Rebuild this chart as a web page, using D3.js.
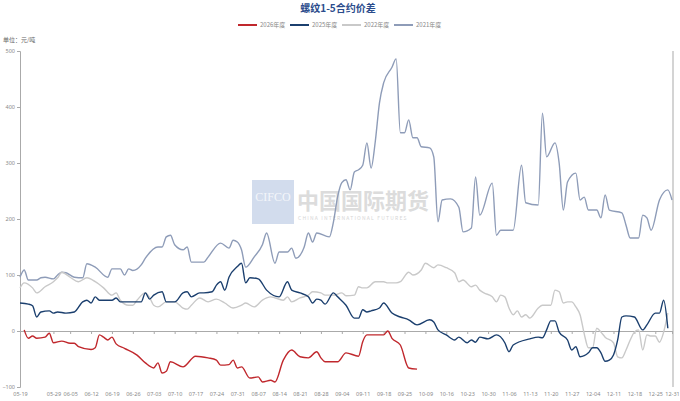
<!DOCTYPE html>
<html><head><meta charset="utf-8">
<script src="https://cdn.jsdelivr.net/npm/d3@7/dist/d3.min.js"></script>
<style>
body{margin:0;background:#fff;}
svg{display:block;font-family:"Noto Sans CJK SC","Noto Sans",sans-serif;}
</style>
</head><body>
<svg id="chart" width="680" height="401"></svg>
<script>
// ---- data ----
const title = "螺纹1-5合约价差";
const unitLabel = "单位：元/吨";
const seriesNames = ["2026年度", "2025年度", "2022年度", "2021年度"];
const seriesColors = ["#c0282d", "#1b3f6e", "#c9c9c9", "#8e9cb8"];
// trading-day index of each x tick label
const tickLabels = ["05-19","05-29","06-05","06-12","06-19","06-26","07-03","07-10","07-17","07-24","07-31","08-07","08-14","08-21","08-28","09-04","09-11","09-18","09-25","10-09","10-16","10-23","10-30","11-06","11-13","11-20","11-27","12-04","12-11","12-18","12-25","12-31"];
const tickDays = [0,8,12,17,22,27,32,37,42,47,52,57,62,67,72,77,82,87,92,97,102,107,112,117,122,127,132,137,142,147,152,156];
const yTicks = [-100,0,100,200,300,400,500];
// [trading-day index, spread]
const s2026 = [[1,2],[2,-13],[3,-9],[4,-13],[6,-11],[7,-4],[8,-21],[10,-18],[12,-22],[13,-22],[14,-28],[17,-33],[18,-30],[19,-7],[20,-11],[21,-16],[22,-11],[23,-23],[25,-31],[28,-43],[30,-57],[32,-66],[33,-57],[34,-75],[35,-72],[36,-55],[39,-64],[42,-45],[45,-48],[47,-52],[48,-61],[50,-60],[51,-52],[52,-66],[53,-64],[55,-84],[57,-82],[58,-91],[60,-88],[61,-91],[63,-52],[65,-34],[67,-46],[69,-48],[71,-37],[72,-48],[73,-55],[76,-55],[78,-39],[81,-45],[82,-19],[83,-7],[87,-7],[88,0],[89,-13],[91,-25],[93,-66],[95,-68]];
const s2025 = [[0,50],[2,48],[3,45],[4,25],[5,34],[7,36],[8,32],[9,34],[11,32],[13,34],[15,52],[16,55],[17,50],[18,61],[19,55],[22,55],[23,59],[24,52],[27,52],[29,52],[30,68],[31,57],[32,64],[34,70],[35,52],[37,52],[39,68],[40,70],[41,61],[43,68],[44,68],[46,70],[47,82],[48,88],[49,73],[50,96],[52,115],[53,121],[54,86],[55,95],[57,93],[59,73],[62,61],[64,88],[65,73],[67,68],[69,61],[70,50],[71,57],[72,55],[73,48],[75,68],[76,61],[78,46],[80,23],[81,23],[82,38],[83,34],[84,36],[86,41],[87,50],[89,32],[91,25],[93,20],[95,11],[98,20],[99,16],[100,2],[102,-7],[104,-16],[105,-11],[107,-21],[108,-16],[109,-20],[110,-11],[112,-14],[114,-7],[116,-21],[117,-37],[118,-25],[122,-14],[124,-11],[125,-12],[126,2],[127,18],[128,18],[129,-2],[131,-16],[132,-34],[133,-28],[134,-46],[136,-39],[137,-30],[138,-30],[139,-39],[140,-54],[141,-52],[142,-43],[143,-16],[144,25],[145,27],[147,25],[149,2],[150,11],[152,32],[153,32],[154,55],[155,5]];
const s2022 = [[0,77],[1,86],[3,77],[4,68],[6,79],[8,88],[9,95],[10,105],[12,96],[14,88],[16,95],[18,88],[20,77],[22,64],[23,68],[24,55],[26,46],[27,46],[28,55],[30,68],[31,60],[32,46],[33,43],[35,52],[37,52],[39,41],[40,39],[41,46],[43,59],[45,52],[47,57],[49,50],[51,41],[53,46],[54,50],[56,43],[58,55],[59,59],[60,61],[63,55],[64,61],[65,52],[67,59],[69,64],[70,70],[72,68],[73,64],[75,64],[77,68],[78,63],[80,64],[81,79],[82,77],[83,77],[85,88],[87,88],[88,86],[90,86],[91,88],[93,105],[94,100],[96,109],[97,121],[99,113],[100,118],[102,113],[104,104],[105,88],[106,91],[108,79],[109,82],[110,73],[111,68],[113,61],[114,52],[115,64],[116,61],[117,41],[118,29],[119,36],[120,25],[121,29],[122,23],[124,41],[125,46],[127,46],[128,73],[129,70],[130,50],[131,52],[132,52],[133,43],[134,29],[135,-5],[136,-30],[137,-30],[138,5],[139,-2],[140,-11],[142,-21],[143,-46],[144,-48],[145,-34],[146,-16],[147,-2],[148,2],[149,-34],[150,-7],[151,-9],[152,-9],[153,-20],[154,-2],[155,32]];
const s2021 = [[0,96],[1,109],[2,91],[4,91],[5,95],[6,96],[8,93],[9,100],[10,105],[11,104],[13,96],[15,95],[16,120],[18,114],[21,96],[22,111],[24,111],[25,100],[26,111],[27,108],[29,118],[30,130],[33,150],[34,150],[35,168],[36,171],[37,154],[39,145],[40,150],[41,123],[44,123],[45,132],[48,157],[50,148],[51,162],[52,159],[53,145],[54,114],[56,132],[58,154],[59,175],[61,121],[62,141],[64,141],[65,148],[66,130],[68,150],[69,175],[70,159],[71,175],[74,168],[75,195],[76,240],[77,265],[78,270],[79,252],[80,284],[81,288],[82,296],[83,336],[84,291],[85,338],[86,407],[87,443],[89,471],[90,486],[91,354],[92,354],[93,377],[94,345],[95,345],[96,329],[98,327],[99,311],[100,195],[101,234],[103,236],[105,221],[106,177],[108,184],[109,275],[110,207],[113,264],[114,171],[115,180],[118,180],[120,296],[121,229],[124,225],[125,389],[126,311],[128,336],[129,300],[130,216],[131,266],[133,282],[134,234],[135,239],[136,216],[138,216],[139,202],[140,243],[141,216],[144,211],[145,189],[146,166],[148,166],[149,207],[150,202],[151,180],[153,234],[155,252],[156,234]];

// ---- drawing ----
const svg = d3.select("#chart");
const W = 680, H = 401;
const x = d3.scaleLinear().domain([0, 156]).range([20, 672]);
const y = d3.scaleLinear().domain([-100, 500]).range([387, 51]);

// watermark
const wm = svg.append("g").attr("opacity", 0.85);
wm.append("rect").attr("x", 252).attr("y", 180).attr("width", 42).attr("height", 44).attr("fill", "#cbd7ea");
wm.append("text").attr("x", 273).attr("y", 201).attr("text-anchor", "middle")
  .attr("font-family", "Liberation Serif, serif").attr("font-size", 12).attr("fill", "#f2f5fa").text("CIFCO");
wm.append("text").attr("x", 297).attr("y", 209).attr("font-size", 22).attr("font-weight", "bold")
  .attr("fill", "#d6d6d6").attr("letter-spacing", 0).text("中国国际期货");
wm.append("text").attr("x", 298).attr("y", 220).attr("font-size", 5).attr("fill", "#d0d0d0")
  .attr("letter-spacing", 1.2).text("CHINA INTERNATIONAL FUTURES");

// title
svg.append("text").attr("x", 338).attr("y", 12).attr("text-anchor", "middle")
  .attr("font-size", 10).attr("font-weight", "bold").attr("fill", "#2b4c8c").text(title);

// legend
const legend = svg.append("g");
seriesNames.forEach((n, i) => {
  const lx = 238 + i * 52;
  legend.append("line").attr("x1", lx).attr("x2", lx + 19).attr("y1", 25).attr("y2", 25)
    .attr("stroke", seriesColors[i]).attr("stroke-width", 2);
  legend.append("text").attr("x", lx + 22).attr("y", 27).attr("font-size", 6).attr("fill", "#888").text(n);
});

// unit
svg.append("text").attr("x", 3).attr("y", 42).attr("font-size", 6).attr("fill", "#666").text(unitLabel);

// y axis
const yAxis = svg.append("g").attr("transform", "translate(20,0)")
  .call(d3.axisLeft(y).tickValues(yTicks).tickSize(3).tickPadding(2));
yAxis.select(".domain").attr("stroke", "#aaa");
yAxis.selectAll(".tick line").attr("stroke", "#aaa");
yAxis.selectAll(".tick text").attr("font-size", 5.5).attr("fill", "#888").attr("font-family", "Noto Sans, sans-serif");

// right boundary line
svg.append("line").attr("x1", 673).attr("x2", 673).attr("y1", y(500)).attr("y2", y(-100))
  .attr("stroke", "#d4d4d4").attr("stroke-width", 2);

// x axis at zero
const xAxis = svg.append("g").attr("transform", `translate(0,${y(0)})`)
  .call(d3.axisBottom(x).tickValues(tickDays).tickSize(3).tickSizeOuter(0).tickFormat(() => ""));
xAxis.select(".domain").attr("stroke", "#aaa");
xAxis.selectAll(".tick line").attr("stroke", "#aaa");

// x labels at bottom
const xLab = svg.append("g").attr("transform", `translate(0,${y(-100)})`)
  .call(d3.axisBottom(x).tickValues(tickDays).tickSize(0).tickPadding(5)
    .tickFormat((d, i) => tickLabels[i]));
xLab.select(".domain").remove();
xLab.selectAll(".tick text").attr("font-size", 5.5).attr("fill", "#888").attr("font-family", "Noto Sans, sans-serif");

// lines
const line = d3.line().x(d => x(d[0])).y(d => y(d[1])).curve(d3.curveMonotoneX);
const drawOrder = [[s2021, 3], [s2022, 2], [s2025, 1], [s2026, 0]];
drawOrder.forEach(([data, ci]) => {
  svg.append("path").datum(data).attr("d", line).attr("fill", "none")
    .attr("stroke", seriesColors[ci]).attr("stroke-width", 1.4).attr("stroke-linejoin", "round");
});
</script>
</body></html>
